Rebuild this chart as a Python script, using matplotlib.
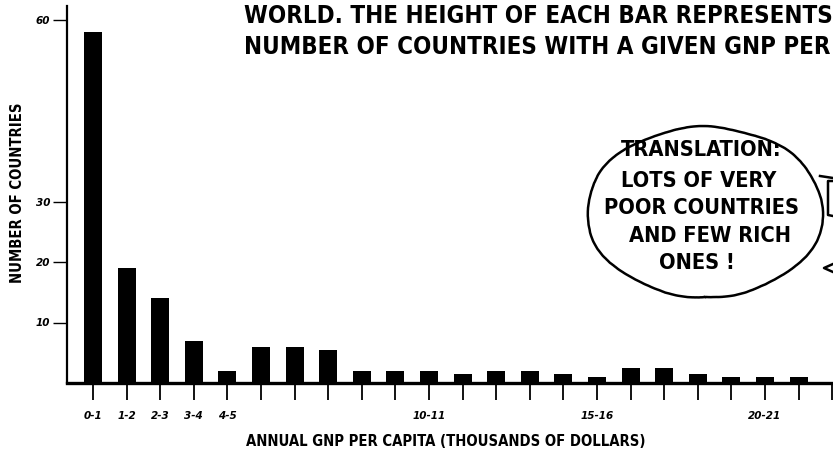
import numpy as np
import matplotlib
matplotlib.use('Agg')
import matplotlib.pyplot as plt
from matplotlib import font_manager as fm
from matplotlib.patches import Ellipse
from matplotlib.lines import Line2D

bins = ['0-1', '1-2', '2-3', '3-4', '4-5', '5-6', '6-7', '7-8', '8-9', '9-10', '10-11',
        '11-12', '12-13', '13-14', '14-15', '15-16', '16-17', '17-18', '18-19',
        '19-20', '20-21', '21-22', '22-23']
counts = [58, 19, 14, 7, 2, 6, 6, 5.5, 2, 2, 2, 1.5, 2, 2, 1.5, 1, 2.5, 2.5, 1.5,
          1, 1, 1, 0]
shown_bins = ['0-1', '1-2', '2-3', '3-4', '4-5', '10-11', '15-16', '20-21']
yticks = [10, 20, 30, 60]

title_lines = ['WORLD. THE HEIGHT OF EACH BAR REPRESENTS',
               'NUMBER OF COUNTRIES WITH A GIVEN GNP PER']
bubble_lines = ['TRANSLATION:', 'LOTS OF VERY', 'POOR COUNTRIES', 'AND FEW RICH', 'ONES !']

W, H = 833, 458


def fx(px):
    return px / W


def fy(py):
    return 1 - py / H


def narrow_bold_font():
    # hand lettering is tall and narrow: look for a condensed bold face
    pref = ['Liberation Sans Narrow', 'DejaVu Sans', 'Noto Sans', 'Roboto Condensed',
            'Roboto', 'Open Sans', 'Lato', 'Inter']
    best, best_score = None, None
    for f in fm.fontManager.ttflist:
        fn = f.fname.lower()
        if not ('condensed' in fn or 'narrow' in fn or 'condensed' in str(f.stretch)):
            continue
        if 'italic' in fn or 'oblique' in fn:
            continue
        w = f.weight if isinstance(f.weight, int) else fm.weight_dict.get(f.weight, 400)
        if w < 600 or w > 750:
            continue
        score = (pref.index(f.name) if f.name in pref else 99,
                 1 if ('semi' in fn or 'extra' in fn) else 0)
        if best_score is None or score < best_score:
            best, best_score = f.fname, score
    if best:
        return fm.FontProperties(fname=best)
    return fm.FontProperties(family='DejaVu Sans', weight='bold')


HAND = narrow_bold_font()

fig = plt.figure(figsize=(W / 100, H / 100), dpi=100)
fig.patch.set_facecolor('white')
renderer = fig.canvas.get_renderer()


def fit(texts, target_px):
    # scale a group of texts so the widest one spans target_px
    widest = max(t.get_window_extent(renderer).width for t in texts)
    size = texts[0].get_fontsize() * target_px / widest
    for t in texts:
        t.set_fontsize(size)


# axes placed so that bin i sits at pixel 93 + 33.6*i and the baseline at y=383
ax = fig.add_axes([fx(67), fy(383), fx(W - 67), (383 - 6) / H])
x = np.arange(len(bins))
ax.bar(x, counts, width=0.54, color='black', zorder=1)
ax.set_xlim((67 - 93) / 33.6, (833 - 93) / 33.6)
ax.set_ylim(0, (383 - 6) / 6.05)

for s in ['top', 'right']:
    ax.spines[s].set_visible(False)
ax.spines['left'].set_linewidth(1.6)
ax.spines['bottom'].set_linewidth(2.4)

ax.set_xticks(x)
ax.set_xticklabels([b if b in shown_bins else '' for b in bins])
ax.set_yticks(yticks)
ax.set_yticklabels([str(t) for t in yticks])
ax.tick_params(axis='x', length=12, width=1.3, pad=8, labelsize=7.5)
ax.tick_params(axis='y', length=10, width=1.0, pad=2, labelsize=7.5)
for lbl in ax.get_xticklabels() + ax.get_yticklabels():
    lbl.set_fontstyle('italic')
    lbl.set_fontweight('bold')
ax.patch.set_alpha(0)

ylab = fig.text(fx(18), fy(193), 'NUMBER OF COUNTRIES', rotation=90, ha='center',
                va='center', fontsize=10, fontproperties=HAND)
fit([ylab], 180)
ylab.set_rotation(0)
fit([ylab], 180)
ylab.set_rotation(90)
xlab = fig.text(fx(446), fy(442), 'ANNUAL GNP PER CAPITA (THOUSANDS OF DOLLARS)',
                ha='center', va='center', fontsize=10, fontproperties=HAND)
fit([xlab], 398)

titles = [fig.text(fx(244), fy(py), line, ha='left', va='center', fontsize=10,
                   fontproperties=HAND) for line, py in zip(title_lines, [16, 47])]
fit(titles, 586)

# speech bubble
bubble = Ellipse((fx(705), fy(212)), fx(236), 170 / H, transform=fig.transFigure,
                 fill=False, ec='black', lw=1.8)
bubble.set_sketch_params(scale=1.0, length=120, randomness=3)
fig.add_artist(bubble)
btexts = [fig.text(fx(px), fy(py), line, ha='center', va='center', fontsize=10,
                   fontproperties=HAND)
          for line, px, py in zip(bubble_lines, [701, 699, 702, 710, 697],
                                  [150, 181, 208, 236, 263])]
fit(btexts, 195)

# bit of the next drawing peeking in at the right edge
for xs, ys in [([820, 833], [176, 178]),
               ([833, 828, 828, 833], [181, 181, 215, 216]),
               ([833, 824, 833], [264, 268, 272])]:
    fig.add_artist(Line2D([fx(v) for v in xs], [fy(v) for v in ys],
                          transform=fig.transFigure, color='black', lw=1.8))

fig.savefig('out.png', dpi=100)
